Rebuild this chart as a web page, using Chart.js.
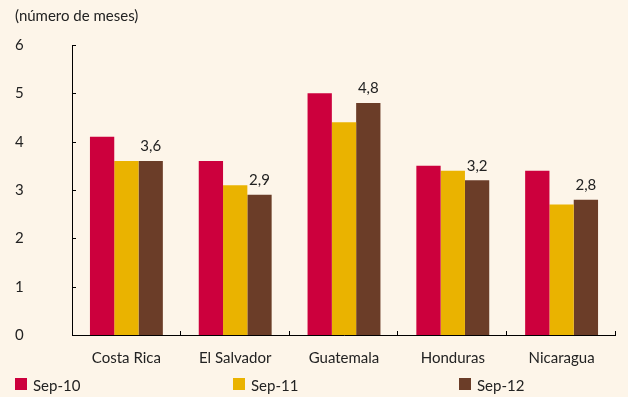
<!DOCTYPE html>
<html>
<head>
<meta charset="utf-8">
<script src="https://cdn.jsdelivr.net/npm/chart.js@4"></script>
<style>
  html, body { margin: 0; padding: 0; background: #fdf5e9; }
  #wrap { width: 628px; height: 397px; }
</style>
</head>
<body>
<div id="wrap"><canvas id="chart"></canvas></div>
<script>
const countries = ['Costa Rica', 'El Salvador', 'Guatemala', 'Honduras', 'Nicaragua'];
const sep10 = [4.1, 3.6, 5.0, 3.5, 3.4];
const sep11 = [3.6, 3.1, 4.4, 3.4, 2.7];
const sep12 = [3.6, 2.9, 4.8, 3.2, 2.8];
const seriesNames = ['Sep-10', 'Sep-11', 'Sep-12'];
const colors = ['#cc003d', '#eab300', '#6b3d28'];
const yTitle = '(número de meses)';

const FONT = 'Lato, "Open Sans", sans-serif';
const TXT = '#222';

// axis lines with short inward ticks, value labels, unit title and spread legend
const decor = {
    id: 'decor',
    afterDatasetsDraw(chart) {
        const ctx = chart.ctx;
        const a = chart.chartArea;
        const x = chart.scales.x, y = chart.scales.y;
        ctx.save();
        ctx.strokeStyle = '#000';
        ctx.lineWidth = 1;
        ctx.beginPath();
        ctx.moveTo(a.left + 0.5, a.top);
        ctx.lineTo(a.left + 0.5, a.bottom + 0.5);
        ctx.lineTo(a.right, a.bottom + 0.5);
        y.ticks.forEach(t => {
            const py = Math.round(y.getPixelForValue(t.value)) + 0.5;
            ctx.moveTo(a.left, py);
            ctx.lineTo(a.left + 4, py);
        });
        const step = (a.right - a.left) / countries.length;
        for (let i = 1; i <= countries.length; i++) {
            const px = Math.round(a.left + step * i) - 0.5;
            ctx.moveTo(px, a.bottom);
            ctx.lineTo(px, a.bottom - 4);
        }
        ctx.stroke();

        // values on the Sep-12 bars
        ctx.fillStyle = TXT;
        ctx.font = '15px ' + FONT;
        ctx.textAlign = 'center';
        ctx.textBaseline = 'bottom';
        chart.getDatasetMeta(2).data.forEach((bar, i) => {
            ctx.fillText(sep12[i].toFixed(1).replace('.', ','), bar.x, bar.y - 7);
        });

        ctx.textAlign = 'left';
        ctx.textBaseline = 'middle';
        ctx.fillText(yTitle, 15, 16);

        const legendX = [15, 233, 459];
        seriesNames.forEach((name, i) => {
            ctx.fillStyle = colors[i];
            ctx.fillRect(legendX[i], 378, 12, 12);
            ctx.fillStyle = TXT;
            ctx.fillText(name, legendX[i] + 18, 386);
        });
        ctx.restore();
    }
};

new Chart(document.getElementById('chart'), {
    type: 'bar',
    data: {
        labels: countries,
        datasets: [sep10, sep11, sep12].map((d, i) => ({
            label: seriesNames[i],
            data: d,
            backgroundColor: colors[i],
            borderWidth: 0,
            barPercentage: 1,
            categoryPercentage: 0.67
        }))
    },
    options: {
        responsive: true,
        maintainAspectRatio: false,
        animation: false,
        layout: { padding: { left: 15, right: 12, top: 45, bottom: 16 } },
        plugins: {
            legend: { display: false },
            tooltip: { enabled: false }
        },
        scales: {
            y: {
                min: 0,
                max: 6,
                border: { display: false },
                grid: { display: false, drawTicks: false },
                ticks: {
                    stepSize: 1,
                    color: TXT,
                    crossAlign: 'far',
                    padding: 0,
                    font: { family: FONT, size: 15 }
                },
                afterFit(scale) { scale.width = 57; }
            },
            x: {
                border: { display: false },
                grid: { display: false, drawTicks: false },
                ticks: {
                    color: TXT,
                    padding: 14,
                    maxRotation: 0,
                    font: { family: FONT, size: 15 }
                }
            }
        }
    },
    plugins: [decor]
});
</script>
</body>
</html>
